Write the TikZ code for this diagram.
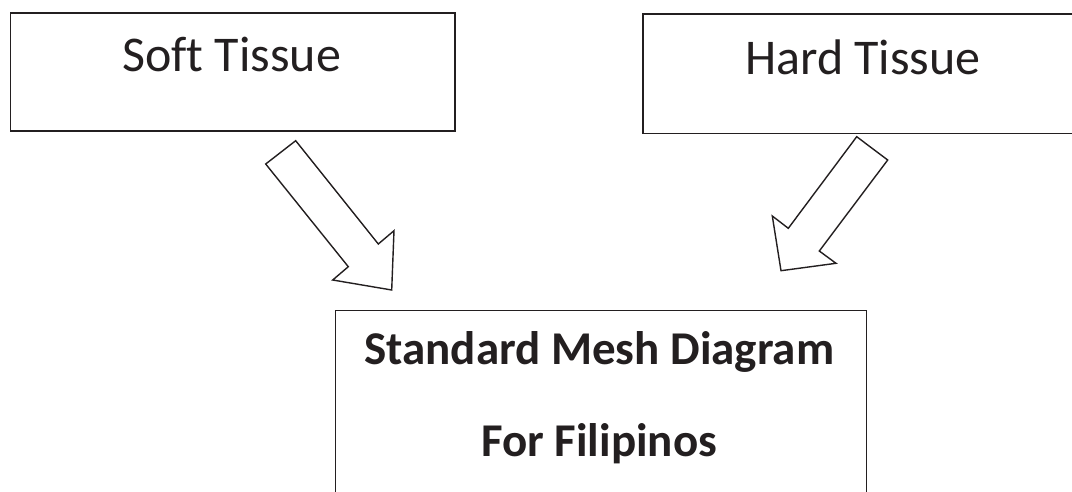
\documentclass[tikz,border=0pt]{standalone}
\usepackage{fontspec}
\setmainfont{Carlito}[Ligatures=NoCommon]
\definecolor{ink}{HTML}{231F20}
\begin{document}
\begin{tikzpicture}[x=1pt,y=-1pt,
  box/.style={draw=ink, line width=1.6pt, fill=white, anchor=north west, inner sep=0pt},
  lbl/.style={text=ink, font=\fontsize{50}{60}\selectfont, anchor=base, inner sep=0pt},
  blbl/.style={text=ink, font=\fontsize{47}{56}\selectfont\bfseries, anchor=base, inner sep=0pt},
  blockarrow/.style={draw=ink, line width=1.4pt, fill=white, line join=miter}]
\useasboundingbox (0,0) rectangle (1072,491);
\clip (0,0) rectangle (1072,491);
% boxes
\node[box, minimum width=444.5pt, minimum height=118pt] (soft) at (9.5,12) {};
\node[box, minimum width=450pt, minimum height=119.5pt] (hard) at (642,13.3) {};
\node[box, minimum width=531pt, minimum height=220pt] (mesh) at (334.5,309.5) {};
% labels
\node[lbl] (softlbl) at (231.7,71.7) {Soft Tissue};
\node[lbl] (hardlbl) at (863,74) {Hard Tissue};
\node[blbl] (meshlbl1) at (599.2,364.3) {Standard Mesh Diagram};
\node[blbl] (meshlbl2) at (599.2,456) {For Filipinos};
% block arrows
\draw[blockarrow] (295.7,140.7) -- (378.3,244) -- (394,230.7) -- (391.7,290)
  -- (332.7,280) -- (348.3,266.7) -- (265.7,164) -- cycle;
\draw[blockarrow] (856.7,136.7) -- (887.7,160) -- (819.3,251) -- (836,263.3)
  -- (781,270.7) -- (772.3,216) -- (788.3,228.3) -- cycle;
\end{tikzpicture}
\end{document}
